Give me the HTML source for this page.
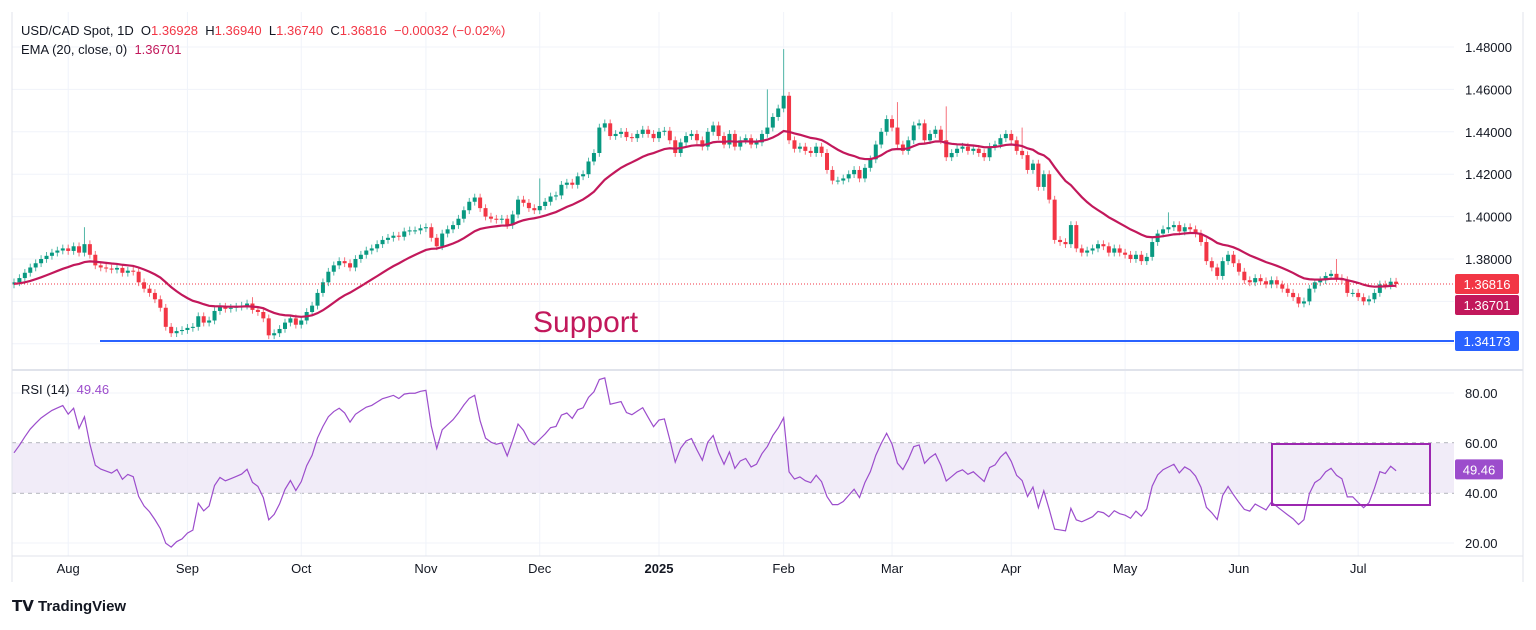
<!DOCTYPE html>
<html><head><meta charset="utf-8">
<style>
body{margin:0;background:#fff;width:1536px;height:625px;overflow:hidden;font-family:"Liberation Sans",sans-serif;}
svg text{font-family:"Liberation Sans",sans-serif;}
</style></head>
<body>
<svg id="chart" width="1536" height="625" xmlns="http://www.w3.org/2000/svg">
<g id="grid"></g>
<rect id="band" x="12" y="443" width="1442" height="50" fill="#ede7f6" opacity="0.8"/>
<g id="marks"></g>
<g id="axes"></g>
<line x1="12" y1="370" x2="1523" y2="370" stroke="#e0e3eb" stroke-width="2"/>
<line x1="1523" y1="12" x2="1523" y2="582" stroke="#e0e3eb"/>
<line x1="12" y1="556" x2="1523" y2="556" stroke="#e0e3eb"/>
<line x1="12" y1="12" x2="12" y2="582" stroke="#e0e3eb"/>
<text x="21" y="35" font-size="13" fill="#131722" xml:space="preserve">USD/CAD Spot, 1D  O<tspan fill="#f23645">1.36928</tspan>  H<tspan fill="#f23645">1.36940</tspan>  L<tspan fill="#f23645">1.36740</tspan>  C<tspan fill="#f23645">1.36816</tspan>  <tspan fill="#f23645">−0.00032 (−0.02%)</tspan></text>
<text x="21" y="54" font-size="13" fill="#131722" xml:space="preserve">EMA (20, close, 0)  <tspan fill="#c2185b">1.36701</tspan></text>
<text x="21" y="394" font-size="13" fill="#131722" xml:space="preserve">RSI (14)  <tspan fill="#9c4dcc">49.46</tspan></text>
<text x="533" y="332" font-size="30" fill="#c2185b">Support</text>
<line x1="100" y1="341" x2="1454" y2="341" stroke="#2962ff" stroke-width="2"/>
<rect x="1272" y="444" width="158" height="61" fill="none" stroke="#9c27b0" stroke-width="2"/>
<text x="12" y="611" font-size="15" font-weight="bold" fill="#131722">𝗧𝗩 TradingView</text>
</svg>
<script>
const closes=[1.3690,1.3710,1.3735,1.3760,1.3780,1.3800,1.3815,1.3830,1.3840,1.3850,
1.3838,1.3860,1.3830,1.3870,1.3820,1.3770,1.3760,1.3755,1.3750,1.3758,
1.3735,1.3745,1.3740,1.3690,1.3660,1.3640,1.3610,1.3570,1.3480,1.3450,
1.3460,1.3465,1.3475,1.3480,1.3530,1.3500,1.3510,1.3555,1.3575,1.3565,
1.3570,1.3575,1.3580,1.3590,1.3560,1.3550,1.3520,1.3440,1.3450,1.3470,
1.3500,1.3520,1.3490,1.3510,1.3550,1.3580,1.3640,1.3690,1.3740,1.3770,
1.3790,1.3780,1.3760,1.3800,1.3820,1.3840,1.3850,1.3870,1.3890,1.3900,
1.3910,1.3905,1.3930,1.3935,1.3935,1.3945,1.3950,1.3900,1.3860,1.3920,
1.3940,1.3960,1.3990,1.4030,1.4070,1.4090,1.4040,1.4000,1.3990,1.3985,
1.3990,1.3960,1.4010,1.4080,1.4065,1.4040,1.4030,1.4050,1.4070,1.4095,
1.4100,1.4150,1.4160,1.4150,1.4190,1.4200,1.4260,1.4300,1.4420,1.4440,
1.4380,1.4390,1.4400,1.4375,1.4370,1.4390,1.4410,1.4390,1.4370,1.4400,
1.4405,1.4360,1.4300,1.4350,1.4380,1.4390,1.4360,1.4330,1.4400,1.4430,
1.4380,1.4340,1.4390,1.4330,1.4360,1.4370,1.4340,1.4350,1.4390,1.4420,
1.4470,1.4510,1.4570,1.4360,1.4320,1.4330,1.4310,1.4300,1.4330,1.4300,
1.4220,1.4170,1.4170,1.4180,1.4200,1.4220,1.4180,1.4230,1.4270,1.4340,
1.4400,1.4460,1.4420,1.4340,1.4310,1.4360,1.4430,1.4440,1.4360,1.4390,
1.4410,1.4360,1.4280,1.4300,1.4320,1.4330,1.4310,1.4320,1.4300,1.4280,
1.4330,1.4340,1.4370,1.4390,1.4360,1.4310,1.4290,1.4220,1.4250,1.4140,
1.4200,1.4080,1.3890,1.3880,1.3870,1.3960,1.3850,1.3830,1.3840,1.3850,
1.3870,1.3860,1.3830,1.3850,1.3830,1.3820,1.3800,1.3820,1.3790,1.3810,
1.3880,1.3920,1.3940,1.3950,1.3960,1.3930,1.3950,1.3940,1.3920,1.3880,
1.3790,1.3760,1.3720,1.3790,1.3820,1.3780,1.3740,1.3700,1.3690,1.3710,
1.3695,1.3680,1.3700,1.3680,1.3660,1.3640,1.3620,1.3590,1.3600,1.3660,
1.3690,1.3700,1.3720,1.3730,1.3710,1.3700,1.3640,1.3640,1.3620,1.3600,
1.3610,1.3640,1.3680,1.3675,1.3693,1.3682];
const firstOpen=1.3680;
const spikeIdx=[13,27,44,97,139,142,163,172,186,213,244];
const spikeHigh=[1.3950,1.3590,1.3620,1.4180,1.4600,1.4790,1.4540,1.4520,1.4420,1.4020,1.3800];
const priceTicks=[1.48,1.46,1.44,1.42,1.40,1.38];
const rsiTicks=[80,60,40,20];
const months=["Aug","Sep","Oct","Nov","Dec","2025","Feb","Mar","Apr","May","Jun","Jul"];
const monthIdx=[10,32,53,76,97,119,142,162,184,205,226,248];

const NS="http://www.w3.org/2000/svg";
const X0=14,DX=5.42;
const xs=i=>X0+i*DX;
const py=p=>47+(1.48-p)*2120;
const ry=v=>393+(80-v)*2.5;
function mk(tag,attrs,parent){const e=document.createElementNS(NS,tag);for(const k in attrs)e.setAttribute(k,attrs[k]);parent.appendChild(e);return e;}
const grid=document.getElementById('grid'),marks=document.getElementById('marks'),axes=document.getElementById('axes');

priceTicks.concat([1.36,1.34]).forEach(p=>{
  const l=mk('line',{x1:12,x2:1454,y1:py(p),y2:py(p),stroke:'#f0f3fa'},grid);
  
  
});
priceTicks.forEach(p=>{
  const t=mk('text',{x:1465,y:py(p)+5,'font-size':13,fill:'#131722'},axes);t.textContent=p.toFixed(5);
  
  
});
rsiTicks.forEach(v=>{
  if(v===80||v===20){const l=mk('line',{x1:12,x2:1454,y1:ry(v),y2:ry(v),stroke:'#f0f3fa'},grid);
  
  }
  const t=mk('text',{x:1465,y:ry(v)+5,'font-size':13,fill:'#131722'},axes);t.textContent=v.toFixed(2);
  
  
});
[60,40].forEach(v=>{const l=mk('line',{x1:12,x2:1454,y1:ry(v),y2:ry(v),stroke:'#868993','stroke-dasharray':'4,4'},grid);
  
  });
months.forEach((m,k)=>{
  const x=xs(monthIdx[k]);
  const l=mk('line',{x1:x,x2:x,y1:12,y2:556,stroke:'#f0f3fa'},grid);
  
  
  const t=mk('text',{x:x,y:573,'font-size':13,fill:'#131722','text-anchor':'middle','font-weight':m==='2025'?'bold':'normal'},axes);t.textContent=m;
  
  
});

closes.forEach((c,i)=>{
  const o=i===0?firstOpen:closes[i-1];
  const up=c>=o;const col=up?'#089981':'#f23645';
  let h=Math.max(o,c)+0.0018,l=Math.min(o,c)-0.0018;
  const s=spikeIdx.indexOf(i);if(s>=0)h=Math.max(h,spikeHigh[s]);
  const x=xs(i);
  const w=mk('line',{x1:x,x2:x,y1:py(h),y2:py(l),stroke:col,'stroke-opacity':0.7},marks);
  
  
  const top=py(Math.max(o,c)),bh=Math.max(1,py(Math.min(o,c))-top);
  const b=mk('rect',{x:x-2,y:top,width:4,height:bh,fill:col},marks);
  
  
});
let ema=1.3682;const k=2/21;const ep=[];
closes.forEach(c=>{ema=c*k+ema*(1-k);ep.push(xs(ep.length)+','+py(ema));});
const emaL=mk('polyline',{points:ep.join(' '),fill:'none',stroke:'#c2185b','stroke-width':2.2},marks);


const lp=mk('line',{x1:12,x2:1454,y1:py(closes[closes.length-1]),y2:py(closes[closes.length-1]),stroke:'#f23645','stroke-dasharray':'1,2'},marks);


let ag=0.0012,al=0.0010;const rp=[];let rsiLast=50;
closes.forEach((c,i)=>{const o=i===0?firstOpen:closes[i-1];const d=c-o;
  ag=(ag*13+Math.max(d,0))/14;al=(al*13+Math.max(-d,0))/14;
  rsiLast=100-100/(1+ag/al);rp.push(xs(i)+','+ry(rsiLast));});
const rsiL=mk('polyline',{points:rp.join(' '),fill:'none',stroke:'#9c4dcc','stroke-width':1.2},marks);



function tag(y,txt,bg,name){
  const g=mk('g',{},axes);
  
  
  mk('rect',{x:1455,y:y-10,width:64,height:20,rx:2,fill:bg},g);
  const t=mk('text',{x:1487,y:y+5,'font-size':13,fill:'#fff','text-anchor':'middle'},g);t.textContent=txt;
}
tag(py(closes[closes.length-1]),'1.36816','#f23645','last-price-tag');
tag(py(closes[closes.length-1])+21,'1.36701','#c2185b','ema-price-tag');
tag(341,'1.34173','#2962ff','support-price-tag');
const rg=mk('g',{},axes);


mk('rect',{x:1455,y:ry(49.46)-10,width:48,height:20,rx:2,fill:'#9c4dcc'},rg);
const rt=mk('text',{x:1479,y:ry(49.46)+5,'font-size':13,fill:'#fff','text-anchor':'middle'},rg);rt.textContent='49.46';
</script>
</body></html>
